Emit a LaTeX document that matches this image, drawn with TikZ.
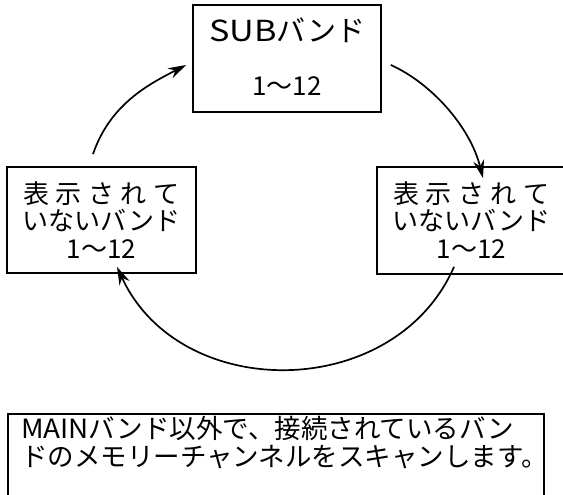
\documentclass[tikz,border=0pt]{standalone}
\usepackage{fontspec}
\usepackage{graphicx}
\setmainfont{Noto Sans CJK JP}
\usetikzlibrary{arrows.meta}
\newcommand{\wide}[2][1.18]{\scalebox{#1}[1]{#2}}
\begin{document}
\begin{tikzpicture}[x=1pt,y=-1pt,
  box/.style={draw,line width=1.7pt,rectangle,inner sep=0pt},
  txt/.style={align=center,font=\fontsize{26}{27.5}\selectfont,inner sep=0pt},
  arr/.style={line width=1.7pt,-{Stealth[length=18pt,width=11pt]}}]
\useasboundingbox (0,0) rectangle (563,495);
\clip (0,0) rectangle (563,495);
\node[box,minimum width=188pt,minimum height=107pt] (top) at (287,58.5) {};
\node[box,minimum width=189pt,minimum height=106pt] (left) at (101.5,220) {};
\node[box,minimum width=189pt,minimum height=107pt] (right) at (471.5,220.5) {};
\node[box,minimum width=536pt,minimum height=110pt,anchor=north west] (bottom) at (7,413) {};
% texts
\node[txt,font=\fontsize{29}{30}\selectfont] (t1) at (287,30) {\wide{SUB}バンド};
\node[txt] (t2) at (287,86) {1〜12};
\node[txt] (l1) at (101.5,220) {\makebox[156pt][s]{表\hfil 示\hfil さ\hfil れ\hfil て}\\いないバンド\\1〜12};
\node[txt] (r1) at (471.5,220) {\makebox[156pt][s]{表\hfil 示\hfil さ\hfil れ\hfil て}\\いないバンド\\1〜12};
\node[txt,font=\fontsize{26.5}{28}\selectfont,align=left,anchor=west] (b1) at (21,443) {\wide[1.05]{MAIN}バンド以外で、接続されているバン\\ドのメモリーチャンネルをスキャンします。};
% arrows
\draw[arr] ([xshift=-8.5pt,yshift=12pt]left.north) .. controls ++(17,-50) and ++(-37,19) .. ([xshift=-6pt,yshift=-6.5pt]top.west);
\draw[arr] ([xshift=9pt,yshift=-6.5pt]top.east) .. controls ++(40,18) and ++(-13,-52) .. ([xshift=11.5pt,yshift=-12pt]right.north);
\draw[arr] ([xshift=-17.5pt,yshift=8pt]right.south) .. controls ++(-59,135) and ++(63,137) .. ([xshift=15.5pt,yshift=7pt]left.south);
\end{tikzpicture}
\end{document}
